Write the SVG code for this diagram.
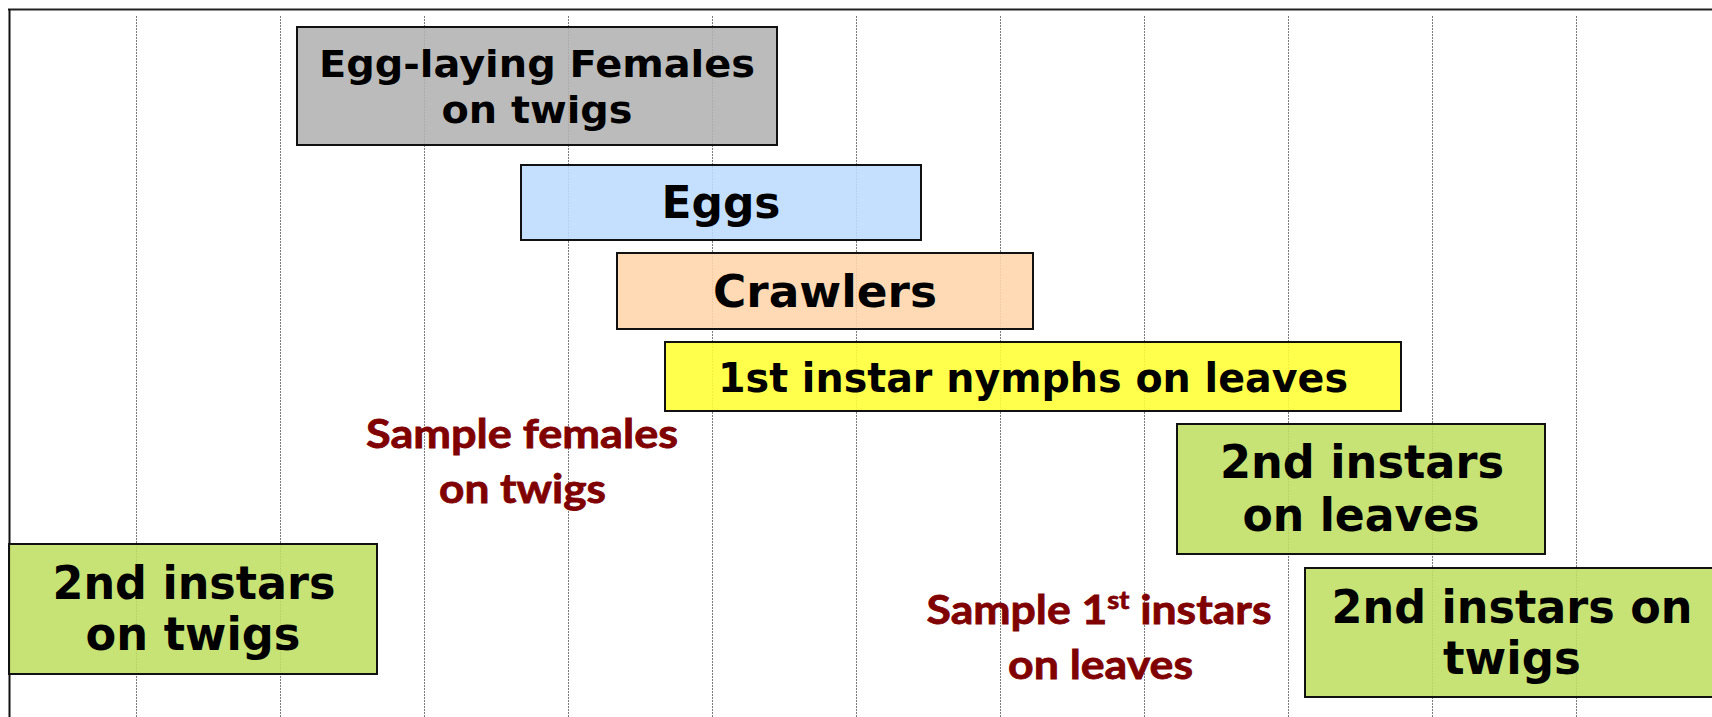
<svg xmlns="http://www.w3.org/2000/svg" width="1712" height="717" viewBox="0 0 1712 717">
<style>
.grid{stroke:#7a7a7a;stroke-width:1;stroke-dasharray:2,1;fill:none}
.box{stroke:#111;stroke-width:2;fill-opacity:0.88}
.lbl{font-family:"DejaVu Sans",Verdana,sans-serif;font-weight:bold;fill:#000;text-anchor:middle}
.red{font-family:Lato,"Liberation Sans",sans-serif;font-weight:bold;fill:#800000;stroke:#800000;stroke-width:0.8;text-anchor:middle;font-size:41px}
</style>
<rect x="0" y="0" width="1712" height="717" fill="#fff"/>
<g id="grid">
<line class="grid" x1="136.5" y1="16" x2="136.5" y2="717"/>
<line class="grid" x1="280.5" y1="16" x2="280.5" y2="717"/>
<line class="grid" x1="424.5" y1="16" x2="424.5" y2="717"/>
<line class="grid" x1="568.5" y1="16" x2="568.5" y2="717"/>
<line class="grid" x1="712.5" y1="16" x2="712.5" y2="717"/>
<line class="grid" x1="856.5" y1="16" x2="856.5" y2="717"/>
<line class="grid" x1="1000.5" y1="16" x2="1000.5" y2="717"/>
<line class="grid" x1="1144.5" y1="16" x2="1144.5" y2="717"/>
<line class="grid" x1="1288.5" y1="16" x2="1288.5" y2="717"/>
<line class="grid" x1="1432.5" y1="16" x2="1432.5" y2="717"/>
<line class="grid" x1="1576.5" y1="16" x2="1576.5" y2="717"/>
</g>
<g id="frame">
<line x1="8" y1="9.5" x2="1712" y2="9.5" stroke="#222" stroke-width="2"/>
<line x1="9.5" y1="9" x2="9.5" y2="717" stroke="#111" stroke-width="2"/>
</g>
<g id="egg-laying-females">
<rect class="box" x="297" y="27" width="480" height="118" fill="#b2b2b2"/>
<text class="lbl" x="537" y="77" font-size="38" textLength="436" lengthAdjust="spacingAndGlyphs">Egg-laying Females</text>
<text class="lbl" x="537" y="123" font-size="38" textLength="191" lengthAdjust="spacingAndGlyphs">on twigs</text>
</g>
<g id="eggs">
<rect class="box" x="521" y="165" width="400" height="75" fill="#bddcff"/>
<text class="lbl" x="721" y="218" font-size="45" textLength="119" lengthAdjust="spacingAndGlyphs">Eggs</text>
</g>
<g id="crawlers">
<rect class="box" x="617" y="253" width="416" height="76" fill="#ffd5aa"/>
<text class="lbl" x="825" y="307" font-size="45" textLength="224" lengthAdjust="spacingAndGlyphs">Crawlers</text>
</g>
<g id="first-instar">
<rect class="box" x="665" y="342" width="736" height="69" fill="#ffff33"/>
<text class="lbl" x="1033" y="392" font-size="41" textLength="630" lengthAdjust="spacingAndGlyphs">1st instar nymphs on leaves</text>
</g>
<g id="second-instars-leaves">
<rect class="box" x="1177" y="424" width="368" height="130" fill="#c0df62"/>
<text class="lbl" x="1362" y="478" font-size="46" textLength="284" lengthAdjust="spacingAndGlyphs">2nd instars</text>
<text class="lbl" x="1361" y="531" font-size="46" textLength="237" lengthAdjust="spacingAndGlyphs">on leaves</text>
</g>
<g id="second-instars-twigs-left">
<rect class="box" x="9" y="544" width="368" height="130" fill="#c0df62"/>
<text class="lbl" x="194" y="599" font-size="46" textLength="283" lengthAdjust="spacingAndGlyphs">2nd instars</text>
<text class="lbl" x="193" y="650" font-size="46" textLength="215" lengthAdjust="spacingAndGlyphs">on twigs</text>
</g>
<g id="second-instars-twigs-right">
<rect class="box" x="1305" y="568" width="420" height="129" fill="#c0df62"/>
<text class="lbl" x="1512" y="623" font-size="46" textLength="361" lengthAdjust="spacingAndGlyphs">2nd instars on</text>
<text class="lbl" x="1512" y="674" font-size="46" textLength="138" lengthAdjust="spacingAndGlyphs">twigs</text>
</g>
<g id="sample-females">
<text class="red" x="522" y="448" textLength="312" lengthAdjust="spacingAndGlyphs">Sample females</text>
<text class="red" x="522.5" y="503" textLength="167" lengthAdjust="spacingAndGlyphs">on twigs</text>
</g>
<g id="sample-first-instars">
<text class="red" x="1099" y="624" textLength="345" lengthAdjust="spacingAndGlyphs">Sample 1<tspan font-size="25" dy="-15">st</tspan><tspan dy="15"> instars</tspan></text>
<text class="red" x="1100.5" y="679" textLength="185" lengthAdjust="spacingAndGlyphs">on leaves</text>
</g>
<g id="connectors"/>
</svg>
